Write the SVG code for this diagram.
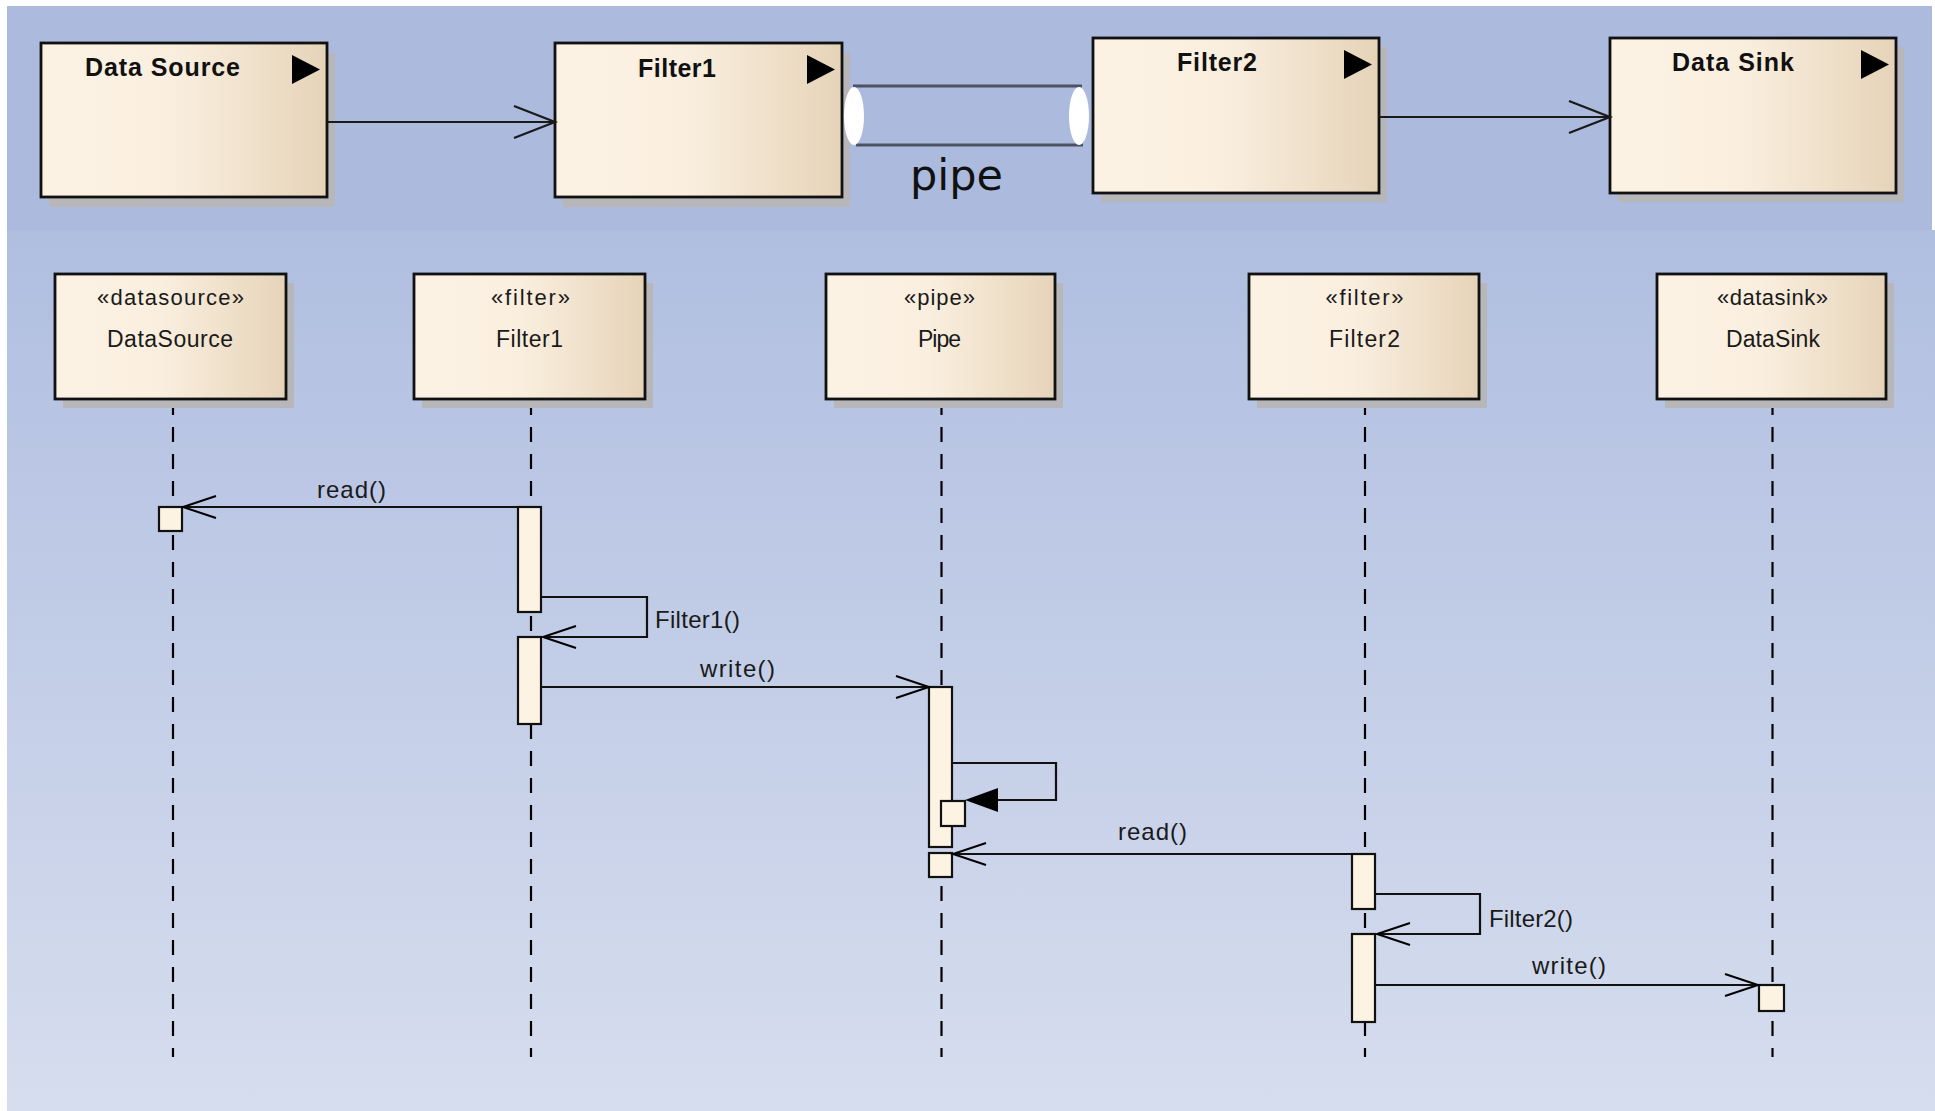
<svg xmlns="http://www.w3.org/2000/svg" width="1935" height="1111" viewBox="0 0 1935 1111">
<defs>
<linearGradient id="boxfill" x1="0" y1="0" x2="1" y2="0">
<stop offset="0" stop-color="#fcf2e4"/>
<stop offset="0.45" stop-color="#faefdf"/>
<stop offset="1" stop-color="#e6d4b9"/>
</linearGradient>
<linearGradient id="lowerbg" x1="0" y1="0" x2="0" y2="1">
<stop offset="0" stop-color="#b0bee0"/>
<stop offset="1" stop-color="#d6ddee"/>
</linearGradient>
<marker id="open" markerWidth="40" markerHeight="30" refX="34" refY="12" orient="auto" markerUnits="userSpaceOnUse">
<path d="M1,1 L34,12 L1,23" fill="none" stroke="#000" stroke-width="2"/>
</marker>
<marker id="openBig" markerWidth="50" markerHeight="40" refX="42" refY="17" orient="auto" markerUnits="userSpaceOnUse">
<path d="M1,1 L42,17 L1,33" fill="none" stroke="#1a1a1a" stroke-width="2.2"/>
</marker>
</defs>
<style>
.shadow{fill:#b7b7b9}
.box{fill:url(#boxfill);stroke:#111;stroke-width:2.8}
.title{font-family:"Liberation Sans",Arial,sans-serif;font-weight:bold;font-size:25px;fill:#111}
.tri{fill:#000}
.head{fill:url(#boxfill);stroke:#111;stroke-width:2.8}
.st{font-family:"Liberation Sans",Arial,sans-serif;font-size:22px;fill:#1a1a1a}
.nm{font-family:"Liberation Sans",Arial,sans-serif;font-size:23px;fill:#1a1a1a}
.life{stroke:#000;stroke-width:2.2;stroke-dasharray:15 12;fill:none}
.act{fill:#fdf3e3;stroke:#111;stroke-width:2.2}
.msg{stroke:#111;stroke-width:2.2;fill:none}
.lbl{font-family:"Liberation Sans",Arial,sans-serif;font-size:24px;fill:#1a1a1a}
.tube{stroke:#4b5263;stroke-width:3;fill:none}
</style>
<rect x="0" y="0" width="1935" height="1111" fill="#ffffff"/>
<rect x="7" y="230" width="1928" height="881" fill="url(#lowerbg)"/>
<rect x="7" y="6" width="1925" height="224" fill="#acbadd"/>

<g id="top-datasource">
<rect class="shadow" x="49" y="53" width="286" height="154"/>
<rect class="box" x="41" y="43" width="286" height="154"/>
<text class="title" x="85" y="76" textLength="155" lengthAdjust="spacing">Data Source</text>
<polygon class="tri" points="292,55 320,69.5 292,84"/>
</g>
<g id="top-filter1">
<rect class="shadow" x="563" y="53" width="287" height="154"/>
<rect class="box" x="555" y="43" width="287" height="154"/>
<text class="title" x="638" y="77" textLength="78" lengthAdjust="spacing">Filter1</text>
<polygon class="tri" points="807,55 835,69.5 807,84"/>
</g>
<g id="top-pipe">
<line class="tube" x1="853" y1="86" x2="1082" y2="86"/>
<line class="tube" x1="856" y1="145" x2="1083" y2="145"/>
<ellipse cx="854" cy="116" rx="10" ry="29" fill="#ffffff"/>
<ellipse cx="1079" cy="116" rx="10" ry="29" fill="#ffffff"/>
<text x="910" y="190" font-family="'DejaVu Sans',sans-serif" font-size="43" fill="#111" textLength="93" lengthAdjust="spacing">pipe</text>
</g>
<g id="top-filter2">
<rect class="shadow" x="1101" y="47" width="286" height="155"/>
<rect class="box" x="1093" y="38" width="286" height="155"/>
<text class="title" x="1177" y="71" textLength="80" lengthAdjust="spacing">Filter2</text>
<polygon class="tri" points="1344,50 1372,64.5 1344,79"/>
</g>
<g id="top-datasink">
<rect class="shadow" x="1618" y="47" width="286" height="155"/>
<rect class="box" x="1610" y="38" width="286" height="155"/>
<text class="title" x="1672" y="71" textLength="122" lengthAdjust="spacing">Data Sink</text>
<polygon class="tri" points="1861,50 1889,64.5 1861,79"/>
</g>

<g id="ll-datasource">
<line class="life" x1="173" y1="400" x2="173" y2="1057"/>
<rect class="shadow" x="63" y="283" width="231" height="125"/>
<rect class="head" x="55" y="274" width="231" height="125"/>
<text class="st" x="170.5" y="305" text-anchor="middle" textLength="147" lengthAdjust="spacing">«datasource»</text>
<text class="nm" x="170" y="347" text-anchor="middle" textLength="126" lengthAdjust="spacing">DataSource</text>
</g>
<g id="ll-filter1">
<line class="life" x1="531" y1="400" x2="531" y2="1057"/>
<rect class="shadow" x="422" y="283" width="231" height="125"/>
<rect class="head" x="414" y="274" width="231" height="125"/>
<text class="st" x="530.5" y="305" text-anchor="middle" textLength="79" lengthAdjust="spacing">«filter»</text>
<text class="nm" x="529.5" y="347" text-anchor="middle" textLength="67" lengthAdjust="spacing">Filter1</text>
</g>
<g id="ll-pipe">
<line class="life" x1="941.5" y1="400" x2="941.5" y2="1057"/>
<rect class="shadow" x="834" y="283" width="229" height="125"/>
<rect class="head" x="826" y="274" width="229" height="125"/>
<text class="st" x="939.5" y="305" text-anchor="middle" textLength="71" lengthAdjust="spacing">«pipe»</text>
<text class="nm" x="939.5" y="347" text-anchor="middle" textLength="43" lengthAdjust="spacing">Pipe</text>
</g>
<g id="ll-filter2">
<line class="life" x1="1365" y1="400" x2="1365" y2="1057"/>
<rect class="shadow" x="1257" y="283" width="230" height="125"/>
<rect class="head" x="1249" y="274" width="230" height="125"/>
<text class="st" x="1364.5" y="305" text-anchor="middle" textLength="78" lengthAdjust="spacing">«filter»</text>
<text class="nm" x="1364.5" y="347" text-anchor="middle" textLength="71" lengthAdjust="spacing">Filter2</text>
</g>
<g id="ll-datasink">
<line class="life" x1="1772.5" y1="400" x2="1772.5" y2="1057"/>
<rect class="shadow" x="1665" y="283" width="229" height="125"/>
<rect class="head" x="1657" y="274" width="229" height="125"/>
<text class="st" x="1772.5" y="305" text-anchor="middle" textLength="111" lengthAdjust="spacing">«datasink»</text>
<text class="nm" x="1773" y="347" text-anchor="middle" textLength="94" lengthAdjust="spacing">DataSink</text>
</g>

<g id="activations">
<rect class="act" x="159" y="507" width="23" height="24"/>
<rect class="act" x="518" y="507" width="23" height="105"/>
<rect class="act" x="518" y="637" width="23" height="87"/>
<rect class="act" x="929" y="687" width="23" height="160"/>
<rect class="act" x="941" y="801" width="24" height="25"/>
<rect class="act" x="929" y="853" width="23" height="24"/>
<rect class="act" x="1352" y="854" width="23" height="55"/>
<rect class="act" x="1352" y="934" width="23" height="88"/>
<rect class="act" x="1759" y="985" width="25" height="26"/>
</g>

<g id="connectors">
<line x1="327" y1="122" x2="555" y2="122" stroke="#1a1a1a" stroke-width="2.2" marker-end="url(#openBig)"/>
<line x1="1379" y1="117" x2="1610" y2="117" stroke="#1a1a1a" stroke-width="2.2" marker-end="url(#openBig)"/>
<line class="msg" x1="518" y1="507" x2="183" y2="507" marker-end="url(#open)"/>
<text class="lbl" x="317" y="498" textLength="69" lengthAdjust="spacing">read()</text>
<path class="msg" d="M541,597 H647 V637 H543" marker-end="url(#open)"/>
<text class="lbl" x="655" y="628" textLength="85" lengthAdjust="spacing">Filter1()</text>
<line class="msg" x1="541" y1="687" x2="929" y2="687" marker-end="url(#open)"/>
<text class="lbl" x="700" y="677" textLength="75" lengthAdjust="spacing">write()</text>
<path class="msg" d="M952,763 H1056 V800 H998"/>
<polygon points="965,800 998,788 998,812" fill="#000"/>
<line class="msg" x1="1352" y1="854" x2="953" y2="854" marker-end="url(#open)"/>
<text class="lbl" x="1118" y="840" textLength="69" lengthAdjust="spacing">read()</text>
<path class="msg" d="M1375,894 H1480 V934 H1377" marker-end="url(#open)"/>
<text class="lbl" x="1489" y="927" textLength="84" lengthAdjust="spacing">Filter2()</text>
<line class="msg" x1="1375" y1="985" x2="1758" y2="985" marker-end="url(#open)"/>
<text class="lbl" x="1532" y="974" textLength="74" lengthAdjust="spacing">write()</text>
</g>
</svg>
